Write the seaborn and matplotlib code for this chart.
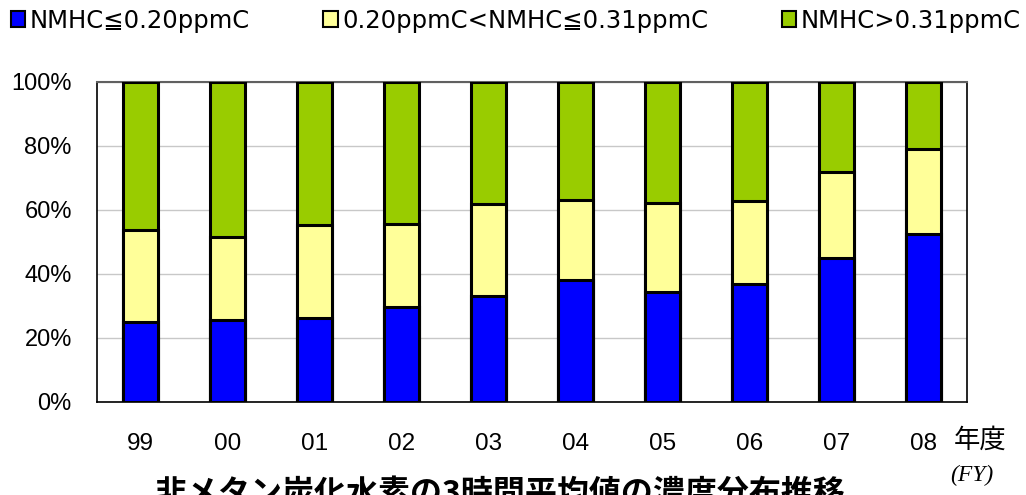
import numpy as np
import pandas as pd
import seaborn as sns
import matplotlib
import matplotlib.pyplot as plt
from matplotlib.patches import Patch
from matplotlib.ticker import FixedLocator
matplotlib.use('Agg')

# fiscal years and share of hours (%) in each NMHC class
years = ["99", "00", "01", "02", "03", "04", "05", "06", "07", "08"]
low = [25.0, 25.5, 26.1, 29.7, 33.1, 38.0, 34.3, 36.8, 44.9, 52.6]
mid = [28.6, 26.1, 29.1, 26.0, 28.7, 25.1, 27.9, 26.0, 27.1, 26.6]
high = [46.4, 48.4, 44.8, 44.3, 38.2, 36.9, 37.8, 37.2, 28.0, 20.8]

labels = ["NMHC≦0.20ppmC", "0.20ppmC<NMHC≦0.31ppmC", "NMHC>0.31ppmC"]
colors = ["#0000ff", "#ffff99", "#99cc00"]

sns.set_theme(style="white")
plt.rcParams['font.family'] = ['Liberation Sans', 'Noto Sans CJK JP', 'DejaVu Sans']
plt.rcParams['text.color'] = 'black'
plt.rcParams['xtick.labelcolor'] = 'black'
plt.rcParams['ytick.labelcolor'] = 'black'

df = pd.DataFrame({"year": years, "low": low, "mid": mid, "high": high})
df["c1"] = df["low"]
df["c2"] = df["low"] + df["mid"]
df["c3"] = df["c2"] + df["high"]

fig = plt.figure(figsize=(10.26, 4.95), dpi=100)
ax = fig.add_axes([0.0943, 0.1879, 0.848, 0.6465])

ax.yaxis.grid(True, color="#c8c8c8", linewidth=1)
ax.set_axisbelow(True)

# stacked bars: draw cumulative totals back to front
for col, c in zip(["c3", "c2", "c1"], colors[::-1]):
    sns.barplot(data=df, x="year", y=col, color=c, width=0.4, saturation=1,
                edgecolor="black", linewidth=2.2, ax=ax, zorder=3)

ax.set_xlim(-0.5, 9.5)
ax.set_ylim(0, 100)
ax.set_yticks([0, 20, 40, 60, 80, 100])
ax.set_yticklabels([f"{v}%" for v in [0, 20, 40, 60, 80, 100]], fontsize=17)
ax.set_xticklabels(years, fontsize=17.5)
ax.set_xlabel("")
ax.set_ylabel("")

ax.tick_params(axis="x", which="major", length=0, pad=22, labelcolor="black")
ax.xaxis.set_minor_locator(FixedLocator(np.arange(0.5, 9.5, 1.0)))
ax.tick_params(axis="x", which="minor", direction="in", length=7, width=1, color="black")
ax.tick_params(axis="y", which="major", direction="in", length=7, width=1.5,
               color="#606060", pad=18, labelcolor="black")

for s in ["left", "bottom", "right"]:
    ax.spines[s].set_color("black")
    ax.spines[s].set_linewidth(1.2)
ax.spines["top"].set_color("#606060")
ax.spines["top"].set_linewidth(1.5)

handles = [Patch(facecolor=c, edgecolor="black", linewidth=1.5) for c in colors]
fig.legend(handles, labels, loc="upper left", bbox_to_anchor=(0.002, 1.0),
           ncol=3, frameon=False, prop={"family": ["DejaVu Sans", "Noto Sans CJK JP"], "size": 17.5},
           handlelength=0.6, handleheight=0.6, handletextpad=0.2, labelcolor="black",
           columnspacing=3.0, borderaxespad=0.15, borderpad=0.2)

fig.text(0.930, 0.11, "年度", fontsize=19, ha="left", va="center",
         family=["Noto Sans CJK JP"], color="black")
fig.text(0.926, 0.04, "(FY)", fontsize=17, ha="left", va="center",
         family="Liberation Serif", style="italic", color="black")
fig.text(0.487, 0.035, "非メタン炭化水素の3時間平均値の濃度分布推移",
         fontsize=23, fontweight="bold", ha="center", va="top",
         family=["Noto Sans CJK JP"], color="black")

fig.savefig("out.png", dpi=100)
plt.close(fig)
